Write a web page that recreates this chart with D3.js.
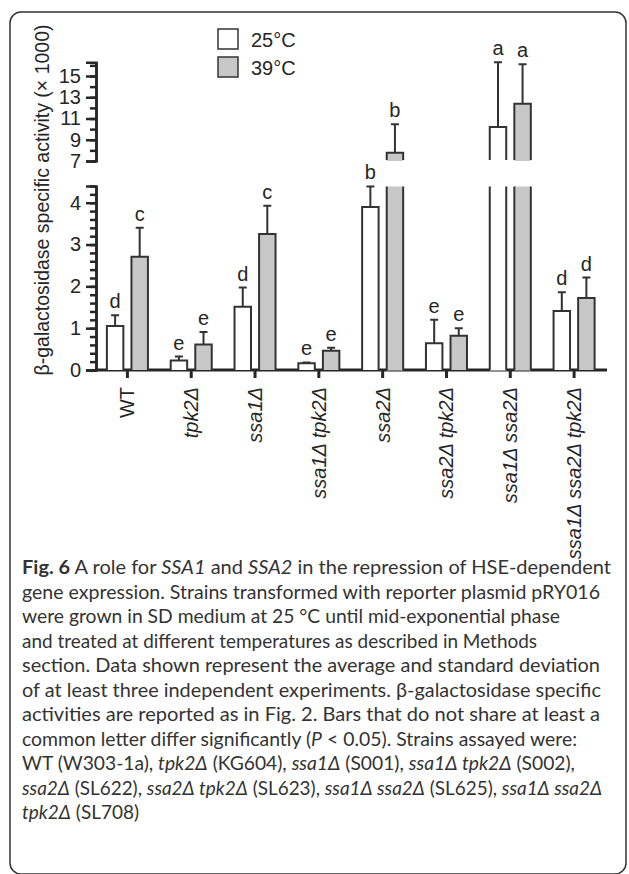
<!DOCTYPE html>
<html>
<head>
<meta charset="utf-8">
<script src="https://cdn.jsdelivr.net/npm/d3@7"></script>
<style>
  body { margin: 0; background: #fff; }
  svg { display: block; }
</style>
</head>
<body>
<div class="container"></div>
<script>
// strains on the x axis
const categories = ['WT', 'tpk2Δ', 'ssa1Δ', 'ssa1Δ tpk2Δ', 'ssa2Δ', 'ssa2Δ tpk2Δ', 'ssa1Δ ssa2Δ', 'ssa1Δ ssa2Δ tpk2Δ'];
const series = ['25°C', '39°C'];

// beta-galactosidase activity (x 1000), mean and SD
const mean25 = [1.05, 0.23, 1.51, 0.16, 3.9, 0.64, 10.2, 1.41];
const sd25 = [0.26, 0.09, 0.46, 0.02, 0.49, 0.56, 6.1, 0.45];
const mean39 = [2.71, 0.61, 3.25, 0.46, 7.78, 0.82, 12.4, 1.72];
const sd39 = [0.69, 0.30, 0.68, 0.07, 2.68, 0.18, 3.7, 0.49];
const letters25 = ['d', 'e', 'd', 'e', 'b', 'e', 'a', 'd'];
const letters39 = ['c', 'e', 'c', 'e', 'b', 'e', 'a', 'd'];

// broken y axis
const lowTicks = [0, 1, 2, 3, 4];
const highTicks = [7, 9, 11, 13, 15];
const lowDomain = [0, 4.4];
const highDomain = [7, 16.3];

const width = 629;
const height = 874;
const font = '"Liberation Sans", Arial, sans-serif';
const ink = '#262626';
const grey = '#c8c8c8';

const svg = d3.select('.container')
  .append('svg')
  .attr('width', width)
  .attr('height', height);

svg.append('rect')
  .attr('x', 10).attr('y', 12)
  .attr('width', 616).attr('height', 862)
  .attr('rx', 11)
  .attr('fill', 'none')
  .attr('stroke', '#333')
  .attr('stroke-width', 1.5);

const x0 = d3.scaleBand()
  .domain(categories)
  .range([95.5, 606])
  .paddingInner(0.357)
  .paddingOuter(0.1785);

const x1 = d3.scaleBand()
  .domain(series)
  .range([0, x0.bandwidth()])
  .paddingInner(0.33);

const yLow = d3.scaleLinear().domain(lowDomain).range([370, 186]);
const yHigh = d3.scaleLinear().domain(highDomain).range([161, 62.2]);
const yOf = v => (v <= lowDomain[1] ? yLow(v) : yHigh(v));

// y axes, minor ticks first then the labelled ones
function drawY(scale, ticks, minorStep) {
  const g = svg.append('g').attr('transform', 'translate(96,0)');
  const [a, b] = scale.domain();
  g.call(d3.axisLeft(scale).tickValues(d3.range(a, b + 1e-6, minorStep)).tickSize(6).tickSizeOuter(0).tickFormat(''));
  g.append('g').call(d3.axisLeft(scale).tickValues(ticks).tickSize(10).tickSizeOuter(10).tickPadding(5).tickFormat(d3.format('d')));
  g.selectAll('path, line').attr('stroke', ink).attr('stroke-width', 2.5);
  g.selectAll('text').attr('font-family', font).attr('font-size', 20).attr('fill', ink);
}
drawY(yLow, lowTicks, 0.2);
drawY(yHigh, highTicks, 1);

// x axis
const gx = svg.append('g')
  .attr('transform', 'translate(0,370)')
  .call(d3.axisBottom(x0).tickSize(8).tickSizeOuter(0));
gx.select('.domain').attr('stroke', ink).attr('stroke-width', 3).attr('d', 'M95,0H607');
gx.selectAll('line').attr('stroke', ink).attr('stroke-width', 3);
gx.selectAll('text')
  .attr('font-family', font)
  .attr('font-size', 20)
  .attr('fill', ink)
  .attr('font-style', d => (d === 'WT' ? 'normal' : 'italic'))
  .attr('text-anchor', 'end')
  .attr('transform', 'rotate(-90)')
  .attr('x', -17)
  .attr('y', 0)
  .attr('dy', '0.35em');

// bars
const rows = [];
categories.forEach((c, i) => {
  rows.push({ c, s: series[0], v: mean25[i], sd: sd25[i], l: letters25[i], fill: '#fff' });
  rows.push({ c, s: series[1], v: mean39[i], sd: sd39[i], l: letters39[i], fill: grey });
});

const bars = svg.append('g').selectAll('g')
  .data(rows)
  .enter()
  .append('g')
  .attr('transform', d => `translate(${x0(d.c) + x1(d.s)},0)`);

const bw = x1.bandwidth();
const y0 = yLow(0);

bars.each(function (d) {
  const g = d3.select(this);
  if (d.v <= lowDomain[1]) {
    g.append('rect').attr('x', 0).attr('y', yLow(d.v)).attr('width', bw).attr('height', y0 - yLow(d.v)).attr('fill', d.fill);
    g.append('path').attr('d', `M0,${y0}V${yLow(d.v)}H${bw}V${y0}`);
  } else {
    // bar crosses the break: open-topped lower piece, open-bottomed upper piece
    const yt = yLow(lowDomain[1]);
    g.append('rect').attr('x', 0).attr('y', yt + 0.5).attr('width', bw).attr('height', y0 - yt).attr('fill', d.fill);
    g.append('path').attr('d', `M0,${y0}V${yt + 0.5}M${bw},${y0}V${yt + 0.5}`);
    const yb = yHigh(highDomain[0]);
    g.append('rect').attr('x', 0).attr('y', yHigh(d.v)).attr('width', bw).attr('height', yb - yHigh(d.v)).attr('fill', d.fill);
    g.append('path').attr('d', `M0,${yb - 1}V${yHigh(d.v)}H${bw}V${yb - 1}`);
  }
  const top = yOf(d.v + d.sd);
  g.append('path').attr('d', `M${bw / 2},${yOf(d.v)}V${top}M${bw / 2 - 4},${top}H${bw / 2 + 4}`);
  g.append('text')
    .attr('x', bw / 2)
    .attr('y', top - 7)
    .attr('text-anchor', 'middle')
    .attr('font-family', font)
    .attr('font-size', 20)
    .attr('fill', ink)
    .text(d.l);
});
bars.selectAll('path').attr('fill', 'none').attr('stroke', '#333').attr('stroke-width', 2);

// y title
svg.append('text')
  .attr('transform', 'translate(49,200) rotate(-90)')
  .attr('text-anchor', 'middle')
  .attr('font-family', font)
  .attr('font-size', 19.5)
  .attr('fill', ink)
  .text('β-galactosidase specific activity (× 1000)');

// legend
const legend = svg.append('g').selectAll('g')
  .data(series)
  .enter()
  .append('g')
  .attr('transform', (d, i) => `translate(218,${29 + i * 28})`);
legend.append('rect')
  .attr('width', 20).attr('height', 20)
  .attr('fill', (d, i) => (i ? grey : '#fff'))
  .attr('stroke', '#333').attr('stroke-width', 1.5);
legend.append('text')
  .attr('x', 33).attr('y', 18)
  .attr('font-family', font).attr('font-size', 20).attr('fill', ink)
  .text(d => d);

// caption
const caption = [
  [['Fig. 6', 'b'], [' A role for '], ['SSA1', 'i'], [' and '], ['SSA2', 'i'], [' in the repression of HSE-dependent']],
  [['gene expression. Strains transformed with reporter plasmid pRY016']],
  [['were grown in SD medium at 25 °C until mid-exponential phase']],
  [['and treated at different temperatures as described in Methods']],
  [['section. Data shown represent the average and standard deviation']],
  [['of at least three independent experiments. β-galactosidase specific']],
  [['activities are reported as in Fig. 2. Bars that do not share at least a']],
  [['common letter differ significantly ('], ['P', 'i'], [' < 0.05). Strains assayed were:']],
  [['WT (W303-1a), '], ['tpk2Δ', 'i'], [' (KG604), '], ['ssa1Δ', 'i'], [' (S001), '], ['ssa1Δ tpk2Δ', 'i'], [' (S002),']],
  [['ssa2Δ', 'i'], [' (SL622), '], ['ssa2Δ tpk2Δ', 'i'], [' (SL623), '], ['ssa1Δ ssa2Δ', 'i'], [' (SL625), '], ['ssa1Δ ssa2Δ', 'i']],
  [['tpk2Δ', 'i'], [' (SL708)']],
];
const lineEnds = [611, 600, 560, 537, 600, 601, 600, 577, 575, 602, 0];

caption.forEach((line, i) => {
  const t = svg.append('text')
    .attr('x', 22)
    .attr('y', 574 + i * 24.5)
    .attr('font-family', 'Lato, "Open Sans", sans-serif')
    .attr('font-size', 19)
    .attr('fill', '#333');
  if (lineEnds[i]) t.attr('textLength', lineEnds[i] - 22).attr('lengthAdjust', 'spacingAndGlyphs');
  line.forEach(([s, f]) => {
    t.append('tspan')
      .attr('font-weight', f === 'b' ? 'bold' : null)
      .attr('font-style', f === 'i' ? 'italic' : null)
      .text(s);
  });
});
</script>
</body>
</html>
